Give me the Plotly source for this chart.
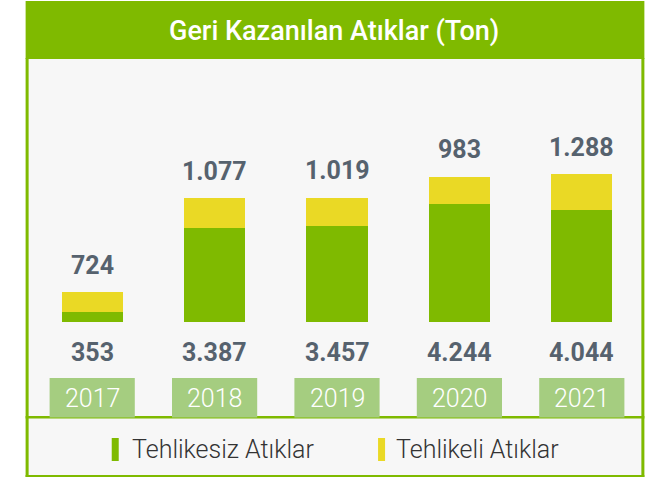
import plotly.graph_objects as go

years = ["2017", "2018", "2019", "2020", "2021"]
tehlikesiz = [353, 3387, 3457, 4244, 4044]
tehlikeli = [724, 1077, 1019, 983, 1288]
series_names = ["Tehlikesiz Atıklar", "Tehlikeli Atıklar"]
title_text = "Geri Kazanılan Atıklar (Ton)"

GREEN = "#7fba00"
YELLOW = "#ead925"
BOX = "#a5cd80"
PANEL = "#f7f7f7"
LABEL = "#56626e"

W, H = 653, 478
step = 122.25
LEFT = 92.5 - step / 2
RIGHT = LEFT + 5 * step

def fmt(v):
    return f"{v:,}".replace(",", ".")

def px(x):
    return (x - LEFT) / (RIGHT - LEFT)

def py(y):
    return 1 - y / H

totals = [a + b for a, b in zip(tehlikesiz, tehlikeli)]
mx = max(totals)
base_px = 322
bar_px = 148
hi = mx * base_px / bar_px
lo = -mx * (H - base_px) / bar_px

fig = go.Figure()
fig.add_trace(go.Bar(x=years, y=tehlikesiz, name=series_names[0], marker_color=GREEN,
                     marker_line_width=0, showlegend=False, hoverinfo="x+y+name"))
fig.add_trace(go.Bar(x=years, y=tehlikeli, name=series_names[1], marker_color=YELLOW,
                     marker_line_width=0, showlegend=False, hoverinfo="x+y+name"))

shapes = []
shapes.append(dict(type="rect", xref="paper", yref="paper", x0=px(26), x1=px(644), y0=py(477), y1=py(58),
                   fillcolor=PANEL, line_width=0, layer="below"))
shapes.append(dict(type="rect", xref="paper", yref="paper", x0=px(26), x1=px(644), y0=py(59), y1=py(1),
                   fillcolor=GREEN, line_width=0, layer="below"))
for x0, x1 in [(26, 29), (641, 644)]:
    shapes.append(dict(type="rect", xref="paper", yref="paper", x0=px(x0), x1=px(x1), y0=py(477), y1=py(58),
                       fillcolor=GREEN, line_width=0, layer="above"))
shapes.append(dict(type="rect", xref="paper", yref="paper", x0=px(26), x1=px(644), y0=py(477), y1=py(475),
                   fillcolor=GREEN, line_width=0, layer="above"))
shapes.append(dict(type="rect", xref="paper", yref="paper", x0=px(26), x1=px(644), y0=py(418.5), y1=py(416),
                   fillcolor=GREEN, line_width=0, layer="above"))
for i in range(len(years)):
    shapes.append(dict(type="rect", xref="x", yref="paper", x0=i - 0.348, x1=i + 0.348, y0=py(417.5), y1=py(378),
                       fillcolor=BOX, line_width=0, layer="above"))
shapes.append(dict(type="rect", xref="paper", yref="paper", x0=px(112), x1=px(119), y0=py(461), y1=py(438),
                   fillcolor=GREEN, line_width=0))
shapes.append(dict(type="rect", xref="paper", yref="paper", x0=px(378), x1=px(385), y0=py(461), y1=py(438),
                   fillcolor=YELLOW, line_width=0))

ann = []
ann.append(dict(text=title_text, xref="paper", yref="paper", x=px(334.5), y=py(31), showarrow=False,
                xanchor="center", yanchor="middle",
                font=dict(family="Roboto", size=27, color="white", weight=500)))
for i, yv in enumerate(years):
    ann.append(dict(text=fmt(tehlikeli[i]), xref="x", yref="y", x=i, y=totals[i], yshift=27, showarrow=False,
                    xanchor="center", yanchor="middle",
                    font=dict(family="Roboto", size=25, color=LABEL, weight="bold")))
    ann.append(dict(text=fmt(tehlikesiz[i]), xref="x", yref="y", x=i, y=0, yshift=-30, showarrow=False,
                    xanchor="center", yanchor="middle",
                    font=dict(family="Roboto", size=25, color=LABEL, weight="bold")))
    ann.append(dict(text=yv, xref="x", yref="paper", x=i, y=py(398), showarrow=False,
                    xanchor="center", yanchor="middle",
                    font=dict(family="Roboto", size=25, color="white", weight=300)))
ann.append(dict(text=series_names[0], xref="paper", yref="paper", x=px(130), y=py(449), showarrow=False,
                xanchor="left", yanchor="middle", font=dict(family="Roboto", size=25, color="#333333", weight=300)))
ann.append(dict(text=series_names[1], xref="paper", yref="paper", x=px(394), y=py(449), showarrow=False,
                xanchor="left", yanchor="middle", font=dict(family="Roboto", size=25, color="#333333", weight=300)))

fig.update_layout(
    width=W, height=H,
    margin=dict(l=LEFT, r=W - RIGHT, t=0, b=0),
    paper_bgcolor="white", plot_bgcolor="rgba(0,0,0,0)",
    barmode="stack", bargap=0.5,
    xaxis=dict(type="category", range=[-0.5, 4.5], visible=False, fixedrange=True),
    yaxis=dict(range=[lo, hi], visible=False, fixedrange=True),
    shapes=shapes, annotations=ann, showlegend=False,
)

fig.write_html("out.html", config={"displayModeBar": False},
               post_script="document.body.style.margin='0';document.body.style.overflow='hidden';")
